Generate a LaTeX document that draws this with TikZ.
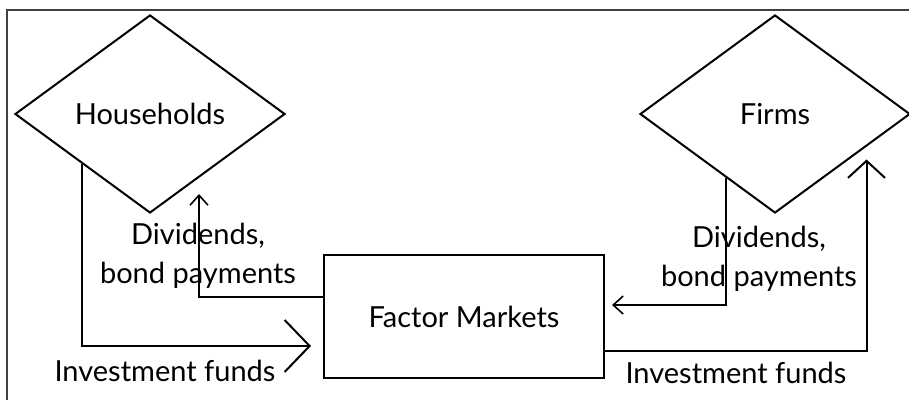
\documentclass[tikz,border=0pt]{standalone}
\usepackage{fontspec}
\setmainfont{Lato}
\usetikzlibrary{shapes.geometric,arrows.meta,calc}

\begin{document}
\begin{tikzpicture}[x=0.5pt,y=-0.5pt,line width=1pt,font=\fontsize{14.5}{19.5}\selectfont,
    sector/.style={diamond,draw,aspect=1.36,minimum width=135pt,minimum height=99pt,inner sep=0pt},
    market/.style={rectangle,draw,minimum width=140pt,minimum height=61pt},
    big flow/.style={-{Straight Barb[length=12.5pt,width=26pt]}},
    wide flow/.style={-{Straight Barb[length=8.5pt,width=18.5pt]}},
    small flow/.style={line width=0.8pt,-{Straight Barb[length=5pt,width=9pt]}},
    flow label/.style={align=center,inner sep=0pt}]

  \useasboundingbox (0,0) rectangle (909,400);
  \draw[line width=0.6pt,black!75] (7,400) -- (7,10) -- (909,10);

  \node[sector] (hh) at (150,114) {Households};
  \node[sector] (fr) [right of=hh,node distance=312.5pt] {Firms};
  \node[market] (fm) at (464,316.5) {Factor Markets};

  \draw[big flow] (hh.south west) |- ([xshift=-6pt,yshift=-14.75pt]fm.west);
  \draw[small flow] ([yshift=9.75pt]fm.west) -| ([xshift=24.5pt,yshift=10pt]hh.south);
  \draw[small flow] ($(fr.west)!0.64!(fr.south)$) |- ([xshift=3.5pt,yshift=5.75pt]fm.east);
  \draw[wide flow] ([yshift=-17.25pt]fm.east) -| ([xshift=11.75pt,yshift=2.25pt]fr.south east);

  \node[flow label] (dl) at (198,256) {Dividends,\\bond payments};
  \node[flow label] (dr) at (759,259) {Dividends,\\bond payments};
  \node[flow label] (il) at (165,371) {Investment funds};
  \node[flow label] (ir) at (736,373) {Investment funds};

\end{tikzpicture}
\end{document}
